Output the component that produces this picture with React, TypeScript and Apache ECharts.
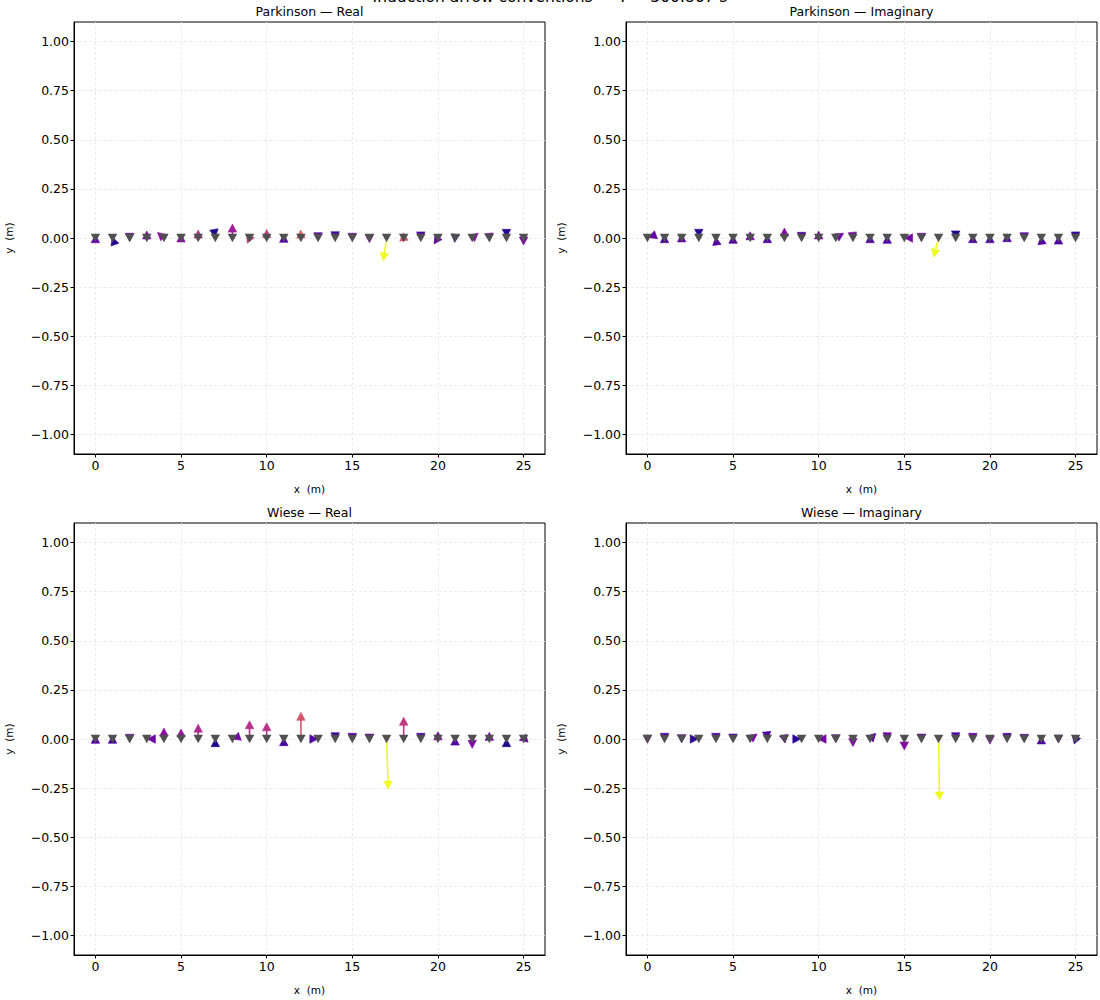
import React, { useEffect, useRef } from "react";
import * as echarts from "echarts";

// ---- data ----
const stations = [0, 1, 2, 3, 4, 5, 6, 7, 8, 9, 10, 11, 12, 13, 14, 15, 16, 17, 18, 19, 20, 21, 22, 23, 24, 25];
const xTicks = [0, 5, 10, 15, 20, 25];
const yTicks = [-1, -0.75, -0.5, -0.25, 0, 0.25, 0.5, 0.75, 1];

const panelTitles = ["Parkinson — Real", "Parkinson — Imaginary", "Wiese — Real", "Wiese — Imaginary"];
const superTitle = "Induction arrow conventions — T = 300.867 s";

// arrow components (u in x units, v in y units)
const parkReU = [0, -0.076, 0, 0, -0.5, 0, 0, 0.02, 0, -0.2, 0, 0, -0.03, 0, 0, 0, 0, -0.22, -0.05, 0, -0.32, -0.05, 0.48, 0.04, 0, 0];
const parkReV = [0.031, 0.018, -0.031, 0.05, 0.038, 0.035, 0.055, -0.011, 0.085, -0.04, 0.058, 0.033, 0.055, -0.028, -0.023, -0.031, -0.038, -0.131, 0.041, -0.024, -0.042, -0.036, 0.033, -0.031, -0.011, -0.05];
const parkReC = [0.18, 0.05, 0.16, 0.25, 0.29, 0.28, 0.42, 0.03, 0.35, 0.46, 0.47, 0.14, 0.6, 0.16, 0.1, 0.2, 0.29, 1.0, 0.55, 0.13, 0.18, 0.11, 0.27, 0.23, 0.05, 0.25];

const parkImU = [-0.09, 0, 0, 0, -0.03, 0, 0, 0, 0, 0, 0, 0.6, 0.03, 0, 0, -0.15, 0, -0.33, 0, 0, 0, 0, 0, -0.03, 0, 0];
const parkImV = [-0.003, 0.031, 0.035, -0.011, 0.019, 0.028, 0.046, 0.031, 0.065, -0.026, 0.05, 0.031, -0.026, 0.031, 0.028, 0, -0.031, -0.112, -0.019, 0.031, 0.031, 0.036, -0.028, 0.023, 0.024, -0.024];
const parkImC = [0.2, 0.13, 0.18, 0.05, 0.15, 0.14, 0.21, 0.13, 0.28, 0.13, 0.25, 0.23, 0.26, 0.14, 0.13, 0.23, 0.21, 1.0, 0.04, 0.14, 0.12, 0.12, 0.16, 0.14, 0.12, 0.07];

const wieseReU = [0, 0, 0, -0.13, 0, 0, 0, 0, -0.16, 0, 0, 0, 0, 0.15, 0, 0, 0, 0.105, 0, 0, 0, 0, 0, 0, 0, -0.41];
const wieseReV = [0.033, 0.033, -0.031, 0, 0.07, 0.065, 0.09, 0.016, -0.005, 0.107, 0.097, 0.021, 0.15, 0, -0.023, -0.026, -0.03, -0.27, 0.125, -0.026, 0.051, 0.024, -0.062, 0.048, 0.016, -0.01];
const wieseReC = [0.14, 0.11, 0.21, 0.21, 0.3, 0.32, 0.4, 0.03, 0.23, 0.42, 0.43, 0.11, 0.55, 0.14, 0.1, 0.15, 0.21, 1.0, 0.45, 0.13, 0.23, 0.14, 0.26, 0.23, 0.03, 0.2];

const wieseImU = [0, 0, 0, 0.13, 0, 0, 0.54, 0.02, 0.09, 0.12, -0.2, 0, 0, 0.46, 0, 0, 0, 0.06, 0, 0, 0, 0, 0, 0, 0, -0.3];
const wieseImV = [-0.036, -0.026, -0.033, 0, -0.026, -0.03, 0.034, -0.018, -0.034, 0, 0, -0.033, -0.053, 0.039, -0.023, -0.07, -0.03, -0.325, -0.023, -0.026, -0.04, -0.026, -0.031, 0.03, -0.035, 0.031];
const wieseImC = [0.21, 0.13, 0.21, 0.06, 0.13, 0.14, 0.23, 0.13, 0.26, 0.06, 0.23, 0.16, 0.26, 0.14, 0.21, 0.28, 0.21, 1.0, 0.14, 0.21, 0.23, 0.14, 0.16, 0.13, 0.15, 0.07];

const plasma = ["#0d0887", "#41049d", "#6a00a8", "#8f0da4", "#b12a90", "#cc4778", "#e16462", "#f2844b", "#fca636", "#fcce25", "#f0f921"];

const FONT = "DejaVu Sans";

function renderArrow(params: any, api: any) {
  const x = api.value(0);
  const u = api.value(2);
  const v = api.value(3);
  const p0 = api.coord([x, 0]);
  const p1 = api.coord([x + u, v]);
  const dx = p1[0] - p0[0];
  const dy = p1[1] - p0[1];
  const L = Math.hypot(dx, dy) || 1e-6;
  const ux = dx / L;
  const uy = dy / L;
  const SH = 2.8;
  const HL = 8;
  const HW = 8.5;
  const tipD = L - SH;
  const tip = [p0[0] + ux * tipD, p0[1] + uy * tipD];
  const base = [tip[0] - ux * HL, tip[1] - uy * HL];
  const nx = -uy;
  const ny = ux;
  const color = api.visual("color");
  const children: any[] = [];
  if (tipD - HL > SH) {
    children.push({
      type: "line",
      shape: { x1: p0[0] + ux * SH, y1: p0[1] + uy * SH, x2: base[0] + ux, y2: base[1] + uy },
      style: { stroke: color, lineWidth: 1.6 },
    });
  }
  children.push({
    type: "polygon",
    shape: {
      points: [
        tip,
        [base[0] + (nx * HW) / 2, base[1] + (ny * HW) / 2],
        [base[0] - (nx * HW) / 2, base[1] - (ny * HW) / 2],
      ],
    },
    style: { fill: color, stroke: color, lineWidth: 0.6 },
  });
  return { type: "group", children };
}

export default function App() {
  const ref = useRef<HTMLDivElement>(null);
  useEffect(() => {
    document.body.style.margin = "0";
    if (!ref.current) return;
    const chart = echarts.init(ref.current, null, { renderer: "svg" });
    const grids = [
      { left: 74, top: 22, width: 471, height: 432 },
      { left: 626, top: 22, width: 471, height: 432 },
      { left: 74, top: 523, width: 471, height: 432 },
      { left: 626, top: 523, width: 471, height: 432 },
    ];
    const panels = [
      [parkReU, parkReV, parkReC],
      [parkImU, parkImV, parkImC],
      [wieseReU, wieseReV, wieseReC],
      [wieseImU, wieseImV, wieseImC],
    ];
    const splitLine = { show: true, lineStyle: { color: "#e6e6e6", width: 0.8, type: [3, 2] as any } };
    const xAxes = grids.map((_, i) => ({
      type: "value",
      gridIndex: i,
      min: -1.25,
      max: 26.25,
      name: "x  (m)",
      nameLocation: "middle",
      nameGap: 29,
      nameTextStyle: { fontFamily: FONT, fontSize: 10.5, color: "#000" },
      axisLine: { show: true, onZero: false, lineStyle: { color: "#000", width: 1 } },
      axisTick: { show: true, inside: false, length: 3.5, lineStyle: { color: "#000" }, customValues: xTicks },
      axisLabel: { fontFamily: FONT, fontSize: 12.5, color: "#000", margin: 5, customValues: xTicks, formatter: (v: number) => String(v) },
      splitLine,
    }));
    const yAxes = grids.map((_, i) => ({
      type: "value",
      gridIndex: i,
      min: -1.1,
      max: 1.1,
      name: "y  (m)",
      nameLocation: "middle",
      nameGap: 60,
      nameRotate: 90,
      nameTextStyle: { fontFamily: FONT, fontSize: 10.5, color: "#000" },
      axisLine: { show: true, onZero: false, lineStyle: { color: "#000", width: 1 } },
      axisTick: { show: true, inside: false, length: 3.5, lineStyle: { color: "#000" }, customValues: yTicks },
      axisLabel: {
        fontFamily: FONT,
        fontSize: 12.5,
        color: "#000",
        margin: 5,
        customValues: yTicks,
        formatter: (v: number) => (v < 0 ? "\u2212" + Math.abs(v).toFixed(2) : v.toFixed(2)),
      },
      splitLine,
    }));
    const series: any[] = [];
    const arrowSeriesIdx: number[] = [];
    panels.forEach((p, i) => {
      const [U, V, C] = p;
      arrowSeriesIdx.push(series.length);
      series.push({
        type: "custom",
        xAxisIndex: i,
        yAxisIndex: i,
        renderItem: renderArrow,
        encode: { x: 0, y: 1 },
        data: stations.map((s, k) => [s, 0, U[k], V[k], C[k]]),
        z: 2,
        clip: true,
      });
      series.push({
        type: "scatter",
        xAxisIndex: i,
        yAxisIndex: i,
        symbol: "triangle",
        symbolRotate: 180,
        symbolSize: [9.5, 8.5],
        itemStyle: { color: "#505050", opacity: 1 },
        data: stations.map((s) => [s, 0]),
        z: 3,
        silent: true,
      });
    });
    const titleGraphics = panelTitles.map((t, i) => ({
      type: "text",
      x: grids[i].left + grids[i].width / 2,
      y: grids[i].top - 11,
      style: { text: t, fontFamily: FONT, fontSize: 12.5, fill: "#000", align: "center", verticalAlign: "middle" },
    }));
    chart.setOption({
      animation: false,
      backgroundColor: "#ffffff",
      grid: grids.map((g) => ({ ...g, show: true, borderColor: "#000", borderWidth: 1, containLabel: false })),
      xAxis: xAxes,
      yAxis: yAxes,
      visualMap: {
        show: false,
        type: "continuous",
        min: 0,
        max: 1,
        dimension: 4,
        seriesIndex: arrowSeriesIdx,
        inRange: { color: plasma },
      },
      graphic: [
        {
          type: "text",
          x: 550,
          y: 5,
          style: { text: superTitle, fontFamily: FONT, fontSize: 15.5, fill: "#000", align: "center", verticalAlign: "bottom" },
        },
        ...titleGraphics,
      ],
      series,
    });
    return () => chart.dispose();
  }, []);
  return <div ref={ref} style={{ position: "absolute", left: 0, top: 0, width: 1100, height: 1000 }} />;
}
